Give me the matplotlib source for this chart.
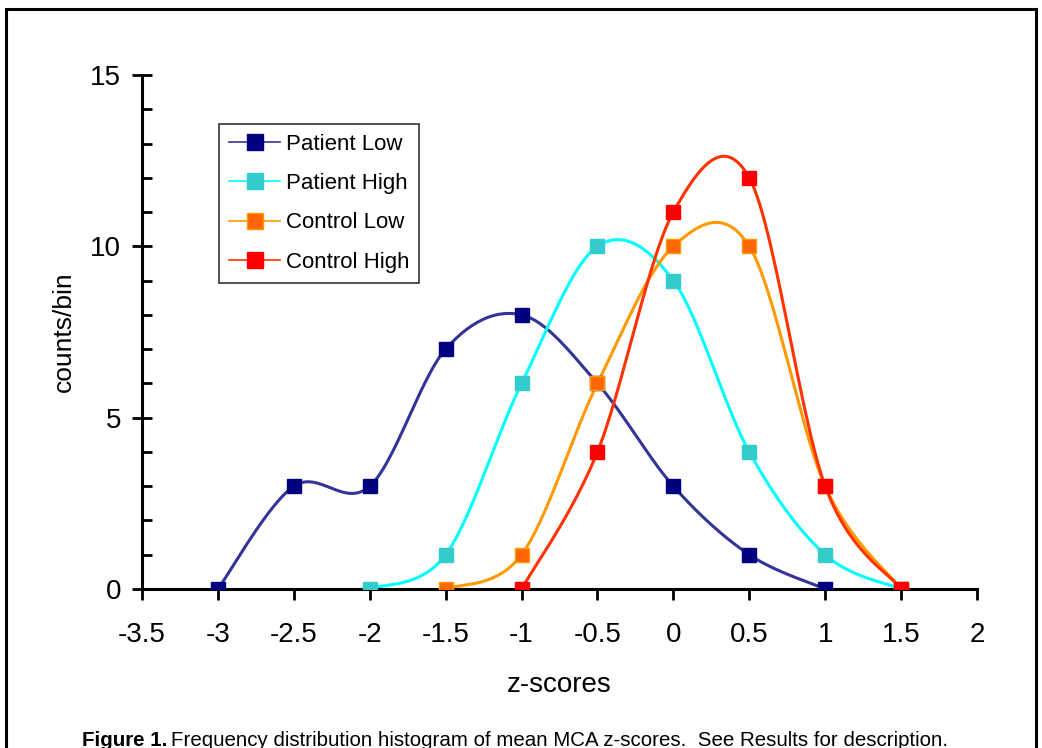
import matplotlib
matplotlib.use('Agg')
import matplotlib.pyplot as plt
from matplotlib.patches import Rectangle
from matplotlib.ticker import MultipleLocator
import numpy as np

plt.rcParams['font.family'] = ['Liberation Sans', 'DejaVu Sans']

# data
pl_x = [-3, -2.5, -2, -1.5, -1, -0.5, 0, 0.5, 1]
pl_y = [0, 3, 3, 7, 8, 6, 3, 1, 0]
ph_x = [-2, -1.5, -1, -0.5, 0, 0.5, 1, 1.5]
ph_y = [0, 1, 6, 10, 9, 4, 1, 0]
cl_x = [-1.5, -1, -0.5, 0, 0.5, 1, 1.5]
cl_y = [0, 1, 6, 10, 10, 3, 0]
ch_x = [-1, -0.5, 0, 0.5, 1, 1.5]
ch_y = [0, 4, 11, 12, 3, 0]

series = [
    ('Patient Low', pl_x, pl_y, '#333399', '#000080', '#000080'),
    ('Patient High', ph_x, ph_y, '#00FFFF', '#33CCCC', '#33CCCC'),
    ('Control Low', cl_x, cl_y, '#FF9900', '#FF6600', '#FF9900'),
    ('Control High', ch_x, ch_y, '#FF3300', '#FF0000', '#FF0000'),
]


def smooth(x, y, n=30):
    # Excel-like smoothed line (Catmull-Rom as cubic Bezier)
    x = np.asarray(x, float)
    y = np.asarray(y, float)
    px = np.concatenate([[x[0]], x, [x[-1]]])
    py = np.concatenate([[y[0]], y, [y[-1]]])
    t = np.linspace(0, 1, n)
    xs, ys = [], []
    for i in range(1, len(px) - 2):
        b0 = np.array([px[i], py[i]])
        b3 = np.array([px[i + 1], py[i + 1]])
        b1 = b0 + (np.array([px[i + 1], py[i + 1]]) - np.array([px[i - 1], py[i - 1]])) / 6
        b2 = b3 - (np.array([px[i + 2], py[i + 2]]) - np.array([px[i], py[i]])) / 6
        pts = (((1 - t) ** 3)[:, None] * b0 + (3 * (1 - t) ** 2 * t)[:, None] * b1
               + (3 * (1 - t) * t ** 2)[:, None] * b2 + (t ** 3)[:, None] * b3)
        xs.extend(pts[:, 0])
        ys.extend(pts[:, 1])
    return xs, ys


fig = plt.figure(figsize=(10.42, 7.48), dpi=100)
ax = fig.add_axes([0.1363, 0.2126, 0.8013, 0.6871])

for name, x, y, lc, mc, me in series:
    sx, sy = smooth(x, y)
    ax.plot(sx, sy, color=lc, lw=2.2, zorder=2)
    ax.plot(x, y, ls='none', marker='s', ms=9.5, mfc=mc, mec=me, mew=1, zorder=3)
    ax.plot([], [], color=lc, lw=1.2, marker='s', ms=12, mfc=mc, mec=me, label=name)

ax.set_xlim(-3.5, 2)
ax.set_ylim(0, 15)
ax.yaxis.set_major_locator(MultipleLocator(5))
ax.yaxis.set_minor_locator(MultipleLocator(1))
ax.set_xticks(np.arange(-3.5, 2.01, 0.5))
ax.set_xticklabels(['-3.5', '-3', '-2.5', '-2', '-1.5', '-1', '-0.5', '0', '0.5', '1', '1.5', '2'])

for s in ['top', 'right']:
    ax.spines[s].set_visible(False)
for s in ['left', 'bottom']:
    ax.spines[s].set_linewidth(2.2)
    ax.spines[s].set_color('black')
ax.tick_params(axis='x', which='major', direction='out', length=8, width=2, labelsize=20, pad=16)
ax.tick_params(axis='y', which='major', direction='inout', length=14, width=2, labelsize=20, pad=8)
ax.tick_params(axis='y', which='minor', direction='in', length=7, width=2)
for lab in ax.get_xticklabels() + ax.get_yticklabels():
    lab.set_clip_on(False)

ax.set_xlabel('z-scores', fontsize=20, labelpad=17)
ax.set_ylabel('counts/bin', fontsize=19, labelpad=10)

leg = ax.legend(loc='upper left', bbox_to_anchor=(219 / 1042, 1 - 124 / 748),
                bbox_transform=fig.transFigure, fontsize=16, frameon=True,
                fancybox=False, edgecolor='black', handlelength=2.3,
                labelspacing=0.82, borderpad=0.45, handletextpad=0.25,
                borderaxespad=0)
leg.get_frame().set_linewidth(1.2)

# outer frame of the figure panel
fig.patches.append(Rectangle((6 / 1042, -0.05), 1030 / 1042, 1.05 - 9 / 748,
                             transform=fig.transFigure, fill=False,
                             edgecolor='black', lw=2.2))

t1 = fig.text(82 / 1042, 2 / 748, 'Figure 1.', fontsize=14.8, fontweight='bold', va='baseline')
fig.canvas.draw()
bb = t1.get_window_extent()
fig.text(bb.x1 / 1042 + 4 / 1042, 2 / 748,
         'Frequency distribution histogram of mean MCA z-scores.  See Results for description.',
         fontsize=14.8, va='baseline')

fig.savefig('out.png', dpi=100)
